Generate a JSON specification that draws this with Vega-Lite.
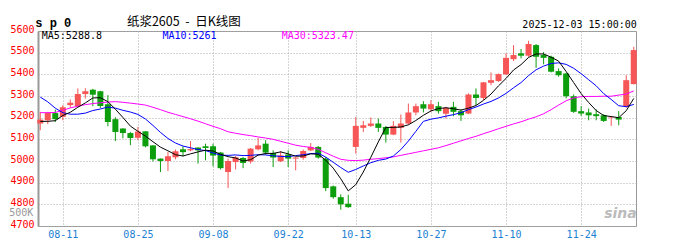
{
"$schema": "https://vega.github.io/schema/vega-lite/v6.json",
"width": 598, "height": 195,
"autosize": {"type": "none"},
"padding": {"left": 38, "top": 31, "right": 39, "bottom": 14},
"background": "white",
"config": {"view": {"stroke": "#999999", "strokeWidth": 1},
  "axisY": {"title": null, "labelColor": "#ff0000", "labelFont": "DejaVu Sans Mono", "labelFontSize": 10,
            "labelPadding": 4, "labelOffset": -2, "ticks": false, "domain": true, "domainColor": "#999999",
            "domainWidth": 2, "grid": true, "gridColor": "#aaaaaa", "gridDash": [1, 2],
            "labelFlush": false, "labelOverlap": false, "format": "d", "tickCount": 10}},
"datasets": {"k": [
{"d":"08-06","o":5173,"h":5227,"l":5142,"c":5191,"m5":5183,"m10":5295,"m30":5223},
{"d":"08-07","o":5188,"h":5227,"l":5170,"c":5222,"m5":5183,"m10":5273,"m30":5223},
{"d":"08-08","o":5221,"h":5237,"l":5180,"c":5193,"m5":5186,"m10":5244,"m30":5224},
{"d":"08-11","o":5204,"h":5258,"l":5188,"c":5248,"m5":5210,"m10":5223,"m30":5234},
{"d":"08-12","o":5258,"h":5284,"l":5246,"c":5269,"m5":5225,"m10":5216,"m30":5245},
{"d":"08-13","o":5253,"h":5335,"l":5250,"c":5309,"m5":5248,"m10":5216,"m30":5253},
{"d":"08-14","o":5309,"h":5336,"l":5288,"c":5322,"m5":5268,"m10":5221,"m30":5260},
{"d":"08-15","o":5329,"h":5333,"l":5253,"c":5306,"m5":5291,"m10":5233,"m30":5265},
{"d":"08-18","o":5322,"h":5324,"l":5244,"c":5254,"m5":5292,"m10":5240,"m30":5269},
{"d":"08-19","o":5262,"h":5304,"l":5160,"c":5180,"m5":5274,"m10":5249,"m30":5272},
{"d":"08-20","o":5193,"h":5202,"l":5092,"c":5134,"m5":5239,"m10":5244,"m30":5274},
{"d":"08-21","o":5150,"h":5151,"l":5105,"c":5129,"m5":5201,"m10":5234,"m30":5271},
{"d":"08-22","o":5129,"h":5134,"l":5073,"c":5106,"m5":5161,"m10":5226,"m30":5267},
{"d":"08-25","o":5107,"h":5157,"l":5096,"c":5136,"m5":5137,"m10":5215,"m30":5263},
{"d":"08-26","o":5137,"h":5138,"l":5063,"c":5068,"m5":5115,"m10":5194,"m30":5258},
{"d":"08-27","o":5072,"h":5073,"l":4998,"c":5008,"m5":5089,"m10":5164,"m30":5248},
{"d":"08-28","o":5011,"h":5012,"l":4949,"c":5000,"m5":5064,"m10":5132,"m30":5237},
{"d":"08-29","o":5000,"h":5042,"l":4954,"c":5022,"m5":5047,"m10":5104,"m30":5225},
{"d":"09-01","o":5017,"h":5053,"l":5008,"c":5045,"m5":5029,"m10":5083,"m30":5215},
{"d":"09-02","o":5054,"h":5068,"l":5022,"c":5041,"m5":5023,"m10":5069,"m30":5205},
{"d":"09-03","o":5049,"h":5092,"l":5045,"c":5055,"m5":5033,"m10":5061,"m30":5195},
{"d":"09-04","o":5062,"h":5063,"l":4988,"c":5049,"m5":5042,"m10":5053,"m30":5184},
{"d":"09-05","o":5068,"h":5080,"l":5003,"c":5060,"m5":5050,"m10":5048,"m30":5172},
{"d":"09-08","o":5068,"h":5080,"l":4975,"c":5025,"m5":5046,"m10":5037,"m30":5160},
{"d":"09-09","o":5039,"h":5042,"l":4961,"c":4967,"m5":5031,"m10":5027,"m30":5149},
{"d":"09-10","o":4949,"h":5011,"l":4875,"c":5000,"m5":5020,"m10":5026,"m30":5135},
{"d":"09-11","o":4995,"h":5024,"l":4961,"c":5017,"m5":5014,"m10":5028,"m30":5128},
{"d":"09-12","o":5014,"h":5018,"l":4967,"c":4991,"m5":5000,"m10":5025,"m30":5122},
{"d":"09-15","o":4998,"h":5060,"l":4988,"c":5057,"m5":5006,"m10":5026,"m30":5117},
{"d":"09-16","o":5054,"h":5106,"l":5049,"c":5072,"m5":5027,"m10":5029,"m30":5111},
{"d":"09-17","o":5080,"h":5096,"l":5029,"c":5039,"m5":5035,"m10":5028,"m30":5106},
{"d":"09-18","o":5037,"h":5049,"l":4972,"c":5016,"m5":5035,"m10":5024,"m30":5100},
{"d":"09-19","o":4999,"h":5046,"l":4995,"c":5026,"m5":5042,"m10":5021,"m30":5091},
{"d":"09-22","o":5030,"h":5049,"l":4972,"c":5011,"m5":5033,"m10":5020,"m30":5082},
{"d":"09-23","o":5011,"h":5018,"l":4957,"c":5016,"m5":5022,"m10":5025,"m30":5073},
{"d":"09-24","o":5014,"h":5053,"l":5006,"c":5046,"m5":5023,"m10":5029,"m30":5067},
{"d":"09-25","o":5049,"h":5083,"l":5046,"c":5065,"m5":5033,"m10":5034,"m30":5063},
{"d":"09-26","o":5065,"h":5069,"l":5011,"c":5016,"m5":5031,"m10":5036,"m30":5054},
{"d":"09-29","o":5011,"h":5018,"l":4861,"c":4875,"m5":5004,"m10":5018,"m30":5038},
{"d":"09-30","o":4883,"h":4887,"l":4826,"c":4833,"m5":4967,"m10":4994,"m30":5022},
{"d":"10-09","o":4833,"h":4846,"l":4775,"c":4800,"m5":4918,"m10":4970,"m30":5008},
{"d":"10-10","o":4803,"h":4844,"l":4784,"c":4787,"m5":4862,"m10":4948,"m30":5003},
{"d":"10-13","o":5065,"h":5203,"l":5034,"c":5162,"m5":4891,"m10":4961,"m30":5002},
{"d":"10-14","o":5153,"h":5185,"l":5134,"c":5165,"m5":4949,"m10":4977,"m30":5004},
{"d":"10-15","o":5162,"h":5201,"l":5157,"c":5173,"m5":5017,"m10":4992,"m30":5008},
{"d":"10-16","o":5173,"h":5196,"l":5134,"c":5153,"m5":5088,"m10":5003,"m30":5011},
{"d":"10-17","o":5157,"h":5162,"l":5085,"c":5122,"m5":5155,"m10":5009,"m30":5015},
{"d":"10-20","o":5122,"h":5184,"l":5119,"c":5162,"m5":5155,"m10":5023,"m30":5019},
{"d":"10-21","o":5153,"h":5215,"l":5085,"c":5173,"m5":5157,"m10":5053,"m30":5026},
{"d":"10-22","o":5173,"h":5265,"l":5168,"c":5224,"m5":5167,"m10":5092,"m30":5033},
{"d":"10-23","o":5224,"h":5265,"l":5211,"c":5253,"m5":5187,"m10":5137,"m30":5040},
{"d":"10-24","o":5262,"h":5276,"l":5224,"c":5242,"m5":5211,"m10":5183,"m30":5047},
{"d":"10-27","o":5239,"h":5281,"l":5227,"c":5262,"m5":5231,"m10":5193,"m30":5054},
{"d":"10-28","o":5253,"h":5273,"l":5219,"c":5230,"m5":5242,"m10":5199,"m30":5061},
{"d":"10-29","o":5218,"h":5250,"l":5196,"c":5245,"m5":5246,"m10":5207,"m30":5071},
{"d":"10-30","o":5250,"h":5273,"l":5207,"c":5227,"m5":5241,"m10":5214,"m30":5082},
{"d":"10-31","o":5230,"h":5239,"l":5185,"c":5211,"m5":5235,"m10":5223,"m30":5093},
{"d":"11-03","o":5219,"h":5312,"l":5216,"c":5307,"m5":5244,"m10":5237,"m30":5104},
{"d":"11-04","o":5307,"h":5335,"l":5258,"c":5291,"m5":5256,"m10":5249,"m30":5114},
{"d":"11-05","o":5291,"h":5365,"l":5281,"c":5363,"m5":5280,"m10":5263,"m30":5126},
{"d":"11-06","o":5361,"h":5409,"l":5350,"c":5373,"m5":5309,"m10":5275,"m30":5137},
{"d":"11-07","o":5369,"h":5404,"l":5365,"c":5401,"m5":5347,"m10":5291,"m30":5149},
{"d":"11-10","o":5400,"h":5497,"l":5396,"c":5476,"m5":5381,"m10":5312,"m30":5160},
{"d":"11-11","o":5470,"h":5535,"l":5461,"c":5489,"m5":5420,"m10":5338,"m30":5171},
{"d":"11-12","o":5497,"h":5517,"l":5474,"c":5486,"m5":5445,"m10":5362,"m30":5181},
{"d":"11-13","o":5486,"h":5555,"l":5481,"c":5540,"m5":5478,"m10":5394,"m30":5193},
{"d":"11-14","o":5535,"h":5540,"l":5430,"c":5481,"m5":5494,"m10":5421,"m30":5204},
{"d":"11-17","o":5489,"h":5503,"l":5446,"c":5476,"m5":5494,"m10":5438,"m30":5218},
{"d":"11-18","o":5481,"h":5486,"l":5409,"c":5412,"m5":5479,"m10":5450,"m30":5237},
{"d":"11-19","o":5415,"h":5427,"l":5389,"c":5396,"m5":5461,"m10":5453,"m30":5258},
{"d":"11-20","o":5404,"h":5407,"l":5289,"c":5299,"m5":5413,"m10":5446,"m30":5278},
{"d":"11-21","o":5299,"h":5307,"l":5222,"c":5227,"m5":5362,"m10":5428,"m30":5291},
{"d":"11-24","o":5230,"h":5253,"l":5208,"c":5219,"m5":5311,"m10":5403,"m30":5297},
{"d":"11-25","o":5224,"h":5242,"l":5188,"c":5211,"m5":5270,"m10":5375,"m30":5298},
{"d":"11-26","o":5216,"h":5239,"l":5188,"c":5207,"m5":5233,"m10":5347,"m30":5298},
{"d":"11-27","o":5211,"h":5216,"l":5180,"c":5185,"m5":5210,"m10":5311,"m30":5299},
{"d":"11-28","o":5201,"h":5208,"l":5162,"c":5204,"m5":5205,"m10":5284,"m30":5299},
{"d":"12-01","o":5203,"h":5230,"l":5165,"c":5191,"m5":5200,"m10":5255,"m30":5304},
{"d":"12-02","o":5250,"h":5396,"l":5245,"c":5373,"m5":5232,"m10":5251,"m30":5309},
{"d":"12-03","o":5355,"h":5527,"l":5353,"c":5512,"m5":5288.8,"m10":5261,"m30":5323.47}
]},
"data": {"name": "k"},
"encoding": {
  "x": {"field": "d", "type": "ordinal",
        "scale": {"type": "point", "padding": 0.3},
        "axis": {"values": ["08-11","08-25","09-08","09-22","10-13","10-27","11-10","11-24"],
                 "title": null, "labelAngle": 0, "labelColor": "#1a80d4", "labelFont": "DejaVu Sans Mono",
                 "labelFontSize": 10, "labelPadding": 3, "ticks": false, "domain": false,
                 "grid": true, "gridColor": "#aaaaaa", "gridDash": [1, 2], "labelFlush": false}}
},
"layer": [
  {"mark": {"type": "rule", "strokeWidth": 1},
   "encoding": {
     "y": {"field": "l", "type": "quantitative",
           "scale": {"domain": [4700, 5600], "nice": false, "zero": false},
           "axis": {"values": [4700,4800,4900,5000,5100,5200,5300,5400,5500,5600]}},
     "y2": {"field": "h"},
     "color": {"condition": {"test": "datum.c >= datum.o", "value": "#f65656"}, "value": "#0d9e0d"}
   }},
  {"mark": {"type": "bar", "size": 6},
   "encoding": {
     "y": {"field": "o", "type": "quantitative", "scale": {"domain": [4700, 5600], "nice": false, "zero": false},
           "axis": {"values": [4700,4800,4900,5000,5100,5200,5300,5400,5500,5600]}},
     "y2": {"field": "c"},
     "color": {"condition": {"test": "datum.c >= datum.o", "value": "#f65656"}, "value": "#0d9e0d"}
   }},
  {"mark": {"type": "line", "strokeWidth": 1, "color": "#ff00ff"},
   "encoding": {"y": {"field": "m30", "type": "quantitative", "scale": {"domain": [4700, 5600], "nice": false, "zero": false},
           "axis": {"values": [4700,4800,4900,5000,5100,5200,5300,5400,5500,5600]}}}},
  {"mark": {"type": "line", "strokeWidth": 1, "color": "#0000ff"},
   "encoding": {"y": {"field": "m10", "type": "quantitative", "scale": {"domain": [4700, 5600], "nice": false, "zero": false},
           "axis": {"values": [4700,4800,4900,5000,5100,5200,5300,5400,5500,5600]}}}},
  {"mark": {"type": "line", "strokeWidth": 1, "color": "#000000"},
   "encoding": {"y": {"field": "m5", "type": "quantitative", "scale": {"domain": [4700, 5600], "nice": false, "zero": false},
           "axis": {"values": [4700,4800,4900,5000,5100,5200,5300,5400,5500,5600]}}}},
  {"data": {"values": [{}]},
   "mark": {"type": "text", "text": "MA5:5288.8", "font": "DejaVu Sans Mono", "fontSize": 10, "color": "#000000", "align": "left", "baseline": "alphabetic", "dx": 1.5},
   "encoding": {"x": {"datum": "08-06", "type": "ordinal"}, "y": {"datum": 5565, "type": "quantitative",
           "axis": {"values": [4700,4800,4900,5000,5100,5200,5300,5400,5500,5600]}}}},
  {"data": {"values": [{}]},
   "mark": {"type": "text", "text": "MA10:5261", "font": "DejaVu Sans Mono", "fontSize": 10, "color": "#0000ff", "align": "left", "baseline": "alphabetic", "dx": 2},
   "encoding": {"x": {"datum": "08-28", "type": "ordinal"}, "y": {"datum": 5565, "type": "quantitative",
           "axis": {"values": [4700,4800,4900,5000,5100,5200,5300,5400,5500,5600]}}}},
  {"data": {"values": [{}]},
   "mark": {"type": "text", "text": "MA30:5323.47", "font": "DejaVu Sans Mono", "fontSize": 10, "color": "#ff00ff", "align": "left", "baseline": "alphabetic", "dx": 1},
   "encoding": {"x": {"datum": "09-19", "type": "ordinal"}, "y": {"datum": 5565, "type": "quantitative",
           "axis": {"values": [4700,4800,4900,5000,5100,5200,5300,5400,5500,5600]}}}},
  {"data": {"values": [{}]},
   "mark": {"type": "text", "text": "s p 0", "font": "Liberation Mono", "fontWeight": "bold", "fontSize": 12, "color": "#000000", "align": "left", "baseline": "alphabetic", "dx": -5, "dy": -1},
   "encoding": {"x": {"datum": "08-06", "type": "ordinal"}, "y": {"datum": 5616, "type": "quantitative",
           "axis": {"values": [4700,4800,4900,5000,5100,5200,5300,5400,5500,5600]}}}},
  {"data": {"values": [{}]},
   "mark": {"type": "text", "text": "纸浆2605\u00a0\u00a0-\u00a0\u00a0日K线图", "font": "Noto Sans CJK SC", "fontSize": 12.5, "color": "#000000", "align": "left", "baseline": "alphabetic", "dx": 4, "dy": -2},
   "encoding": {"x": {"datum": "08-21", "type": "ordinal"}, "y": {"datum": 5616, "type": "quantitative",
           "axis": {"values": [4700,4800,4900,5000,5100,5200,5300,5400,5500,5600]}}}},
  {"data": {"values": [{}]},
   "mark": {"type": "text", "text": "2025-12-03 15:00:00", "font": "DejaVu Sans Mono", "fontSize": 10, "color": "#000000", "align": "right", "baseline": "alphabetic", "dx": 3},
   "encoding": {"x": {"datum": "12-03", "type": "ordinal"}, "y": {"datum": 5616, "type": "quantitative",
           "axis": {"values": [4700,4800,4900,5000,5100,5200,5300,5400,5500,5600]}}}},
  {"data": {"values": [{}]},
   "mark": {"type": "text", "text": "500K", "font": "DejaVu Sans Mono", "fontSize": 10, "color": "#999999", "align": "right", "baseline": "alphabetic", "dx": -7},
   "encoding": {"x": {"datum": "08-06", "type": "ordinal"}, "y": {"datum": 4744, "type": "quantitative",
           "axis": {"values": [4700,4800,4900,5000,5100,5200,5300,5400,5500,5600]}}}},
  {"data": {"values": [{}]},
   "mark": {"type": "text", "text": "sina", "font": "DejaVu Sans", "fontStyle": "italic", "fontWeight": "bold", "fontSize": 14, "color": "#bbbbbb", "align": "right", "baseline": "alphabetic", "dx": 3},
   "encoding": {"x": {"datum": "12-03", "type": "ordinal"}, "y": {"datum": 4739, "type": "quantitative",
           "axis": {"values": [4700,4800,4900,5000,5100,5200,5300,5400,5500,5600]}}}}
]
}
